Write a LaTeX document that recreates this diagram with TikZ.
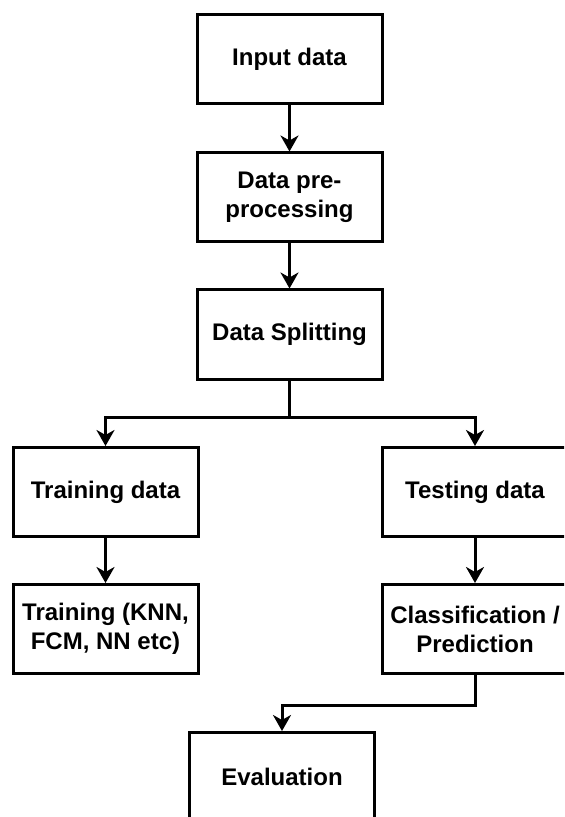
\documentclass[tikz,border=0pt]{standalone}
\usepackage{fontspec}
\setmainfont{Liberation Sans}
\usetikzlibrary{positioning,arrows.meta}

\tikzstyle{block} = [rectangle, draw, line width=1.5pt, fill=white,
    minimum width=92.5pt, minimum height=44.5pt, inner xsep=2pt, align=center,
    font=\bfseries\fontsize{12}{14.5}\selectfont]
\tikzstyle{line} = [draw, line width=1.5pt, -{Stealth[length=8pt,width=9pt,inset=2.5pt]}]

\begin{document}
\begin{tikzpicture}
\clip (0,0) rectangle (282pt,-408.5pt);

\node (Input) [block] at (144.75pt,-29.75pt) {Input data};
\node (Preproc) [block, below=23pt of Input] {Data pre-\\processing};
\node (Splitting) [block, below=22.5pt of Preproc] {Data Splitting};
\coordinate [below=18.5pt of Splitting] (Split);

%Left
\node (TrainData) [block] at (52.75pt,-246pt) {Training data};
\node (TrainModel) [block, below=22.5pt of TrainData] {Training (KNN,\\FCM, NN etc)};

%Right
\node (TestData) [block] at (237.5pt,-246pt) {Testing data};
\node (Classif) [block, below=22.5pt of TestData] {Classification /\\Prediction};
\coordinate [below=15pt of Classif] (Merge);

\node (Eval) [block] at (141pt,-388.5pt) {Evaluation};

\path [line] (Input) -- (Preproc);
\path [line] (Preproc) -- (Splitting);
\path [line] (Splitting) -- (Split) -| (TrainData);
\path [line] (Split) -| (TestData);
\path [line] (TrainData) -- (TrainModel);
\path [line] (TestData) -- (Classif);
\path [line] (Classif) -- (Merge) -| (Eval);

\end{tikzpicture}
\end{document}
